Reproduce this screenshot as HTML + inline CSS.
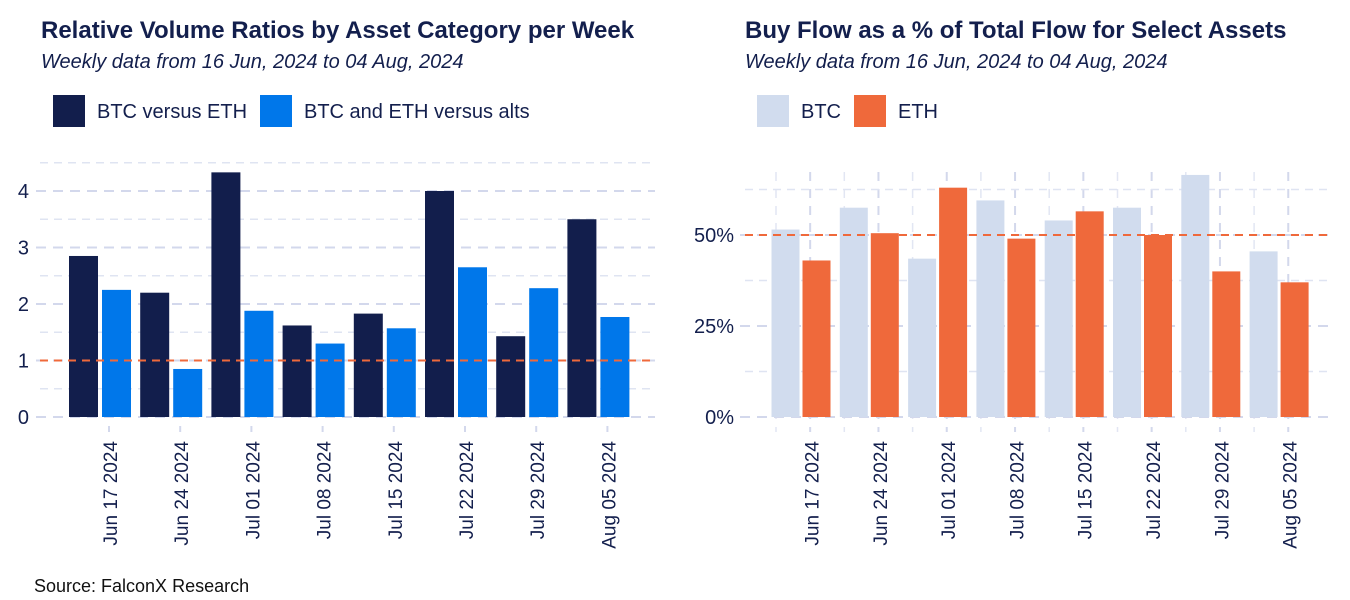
<!DOCTYPE html>
<html><head><meta charset="utf-8"><style>
body{margin:0;background:#fff;}
svg{display:block;font-family:"Liberation Sans",sans-serif;}
</style></head><body>
<svg id="c" width="1350" height="600" viewBox="0 0 1350 600">
<text x="41" y="38" font-size="24" font-weight="bold" fill="#131f4d">Relative Volume Ratios by Asset Category per Week</text>
<text x="41" y="68" font-size="20" font-style="italic" fill="#131f4d">Weekly data from 16 Jun, 2024 to 04 Aug, 2024</text>
<rect x="53" y="95" width="32" height="32" fill="#121e4c"/>
<text x="97" y="118" font-size="20" fill="#131f4d">BTC versus ETH</text>
<rect x="260" y="95" width="32" height="32" fill="#0077ea"/>
<text x="304" y="118" font-size="20" fill="#131f4d">BTC and ETH versus alts</text>
<text x="745" y="38" font-size="24" font-weight="bold" fill="#131f4d">Buy Flow as a % of Total Flow for Select Assets</text>
<text x="745" y="68" font-size="20" font-style="italic" fill="#131f4d">Weekly data from 16 Jun, 2024 to 04 Aug, 2024</text>
<rect x="757" y="95" width="32" height="32" fill="#d1dcee"/>
<text x="801" y="118" font-size="20" fill="#131f4d">BTC</text>
<rect x="854" y="95" width="32" height="32" fill="#ef693b"/>
<text x="898" y="118" font-size="20" fill="#131f4d">ETH</text>
<text x="34" y="592" font-size="18" fill="#111">Source: FalconX Research</text>
<g id="L"></g><g id="R"></g>
</svg>
<script>
const dates=["Jun 17 2024","Jun 24 2024","Jul 01 2024","Jul 08 2024","Jul 15 2024","Jul 22 2024","Jul 29 2024","Aug 05 2024"];
const btcEth=[2.85,2.2,4.33,1.62,1.83,4.0,1.43,3.5];
const btcEthAlts=[2.25,0.85,1.88,1.3,1.57,2.65,2.28,1.77];
const leftTicks=[0,1,2,3,4];
const btcBuy=[51.5,57.5,43.5,59.5,54,57.5,66.5,45.5];
const ethBuy=[43,50.5,63,49,56.5,50,40,37];
const rightTicks=[0,25,50];
const NS="http://www.w3.org/2000/svg";
function mk(p,t,a){const e=document.createElementNS(NS,t);for(const k in a)e.setAttribute(k,a[k]);p.appendChild(e);return e;}
// left
const L=document.getElementById('L');
const ly=v=>417-v*56.5;
const lx=i=>69+i*71.2;
for(let v=0.5;v<=4.5;v+=1){const l=mk(L,'line',{x1:40,x2:655,y1:ly(v),y2:ly(v),stroke:'#dfe4f2','stroke-width':1.5,'stroke-dasharray':'8 6'});}
leftTicks.forEach(v=>{const l=mk(L,'line',{x1:36,x2:655,y1:ly(v),y2:ly(v),stroke:'#d3d8ec','stroke-width':2,'stroke-dasharray':'10 7'});
const t=mk(L,'text',{x:29,y:ly(v)+7,'font-size':20,fill:'#131f4d','text-anchor':'end'});t.textContent=v;});
dates.forEach((d,i)=>{
const a=mk(L,'rect',{x:lx(i),y:ly(btcEth[i]),width:29,height:btcEth[i]*56.5,fill:'#121e4c'});
const b=mk(L,'rect',{x:lx(i)+33,y:ly(btcEthAlts[i]),width:29,height:btcEthAlts[i]*56.5,fill:'#0077ea'});
const tx=lx(i)+40;
const tk=mk(L,'line',{x1:tx,x2:tx,y1:426,y2:432,stroke:'#d3d8ec','stroke-width':2});
const t=mk(L,'text',{x:0,y:0,'font-size':19,fill:'#131f4d','text-anchor':'end',transform:`translate(${tx+8},441) rotate(-90)`});t.textContent=d;});
const rl=mk(L,'line',{x1:40,x2:655,y1:ly(1),y2:ly(1),stroke:'#ef693b','stroke-width':2,'stroke-dasharray':'8 6'});
// right
const R=document.getElementById('R');
const ry=v=>417-v*3.64;
const rx=i=>771.5+i*68.3;
for(let k=0;k<16;k++){const x=776+k*34.15;const l=mk(R,'line',{x1:x,x2:x,y1:172,y2:432,stroke:k%2?'#d3d8ec':'#e2e6f3','stroke-width':k%2?2:1.5,'stroke-dasharray':'9 8'});}
[12.5,37.5,62.5].forEach(v=>{const l=mk(R,'line',{x1:745,x2:1333,y1:ry(v),y2:ry(v),stroke:'#dfe4f2','stroke-width':1.5,'stroke-dasharray':'8 6'});});
rightTicks.forEach(v=>{const l=mk(R,'line',{x1:740,x2:1333,y1:ry(v),y2:ry(v),stroke:'#d3d8ec','stroke-width':2,'stroke-dasharray':'10 7'});
const t=mk(R,'text',{x:734,y:ry(v)+7,'font-size':20,fill:'#131f4d','text-anchor':'end'});t.textContent=v+'%';});
dates.forEach((d,i)=>{
const a=mk(R,'rect',{x:rx(i),y:ry(btcBuy[i]),width:28,height:btcBuy[i]*3.64,fill:'#d1dcee'});
const b=mk(R,'rect',{x:rx(i)+31,y:ry(ethBuy[i]),width:28,height:ethBuy[i]*3.64,fill:'#ef693b'});
const tx=rx(i)+39;
const t=mk(R,'text',{x:0,y:0,'font-size':19,fill:'#131f4d','text-anchor':'end',transform:`translate(${tx+8},441) rotate(-90)`});t.textContent=d;});
const r2=mk(R,'line',{x1:745,x2:1333,y1:ry(50),y2:ry(50),stroke:'#ef693b','stroke-width':2,'stroke-dasharray':'8 6'});
</script>
</body></html>
